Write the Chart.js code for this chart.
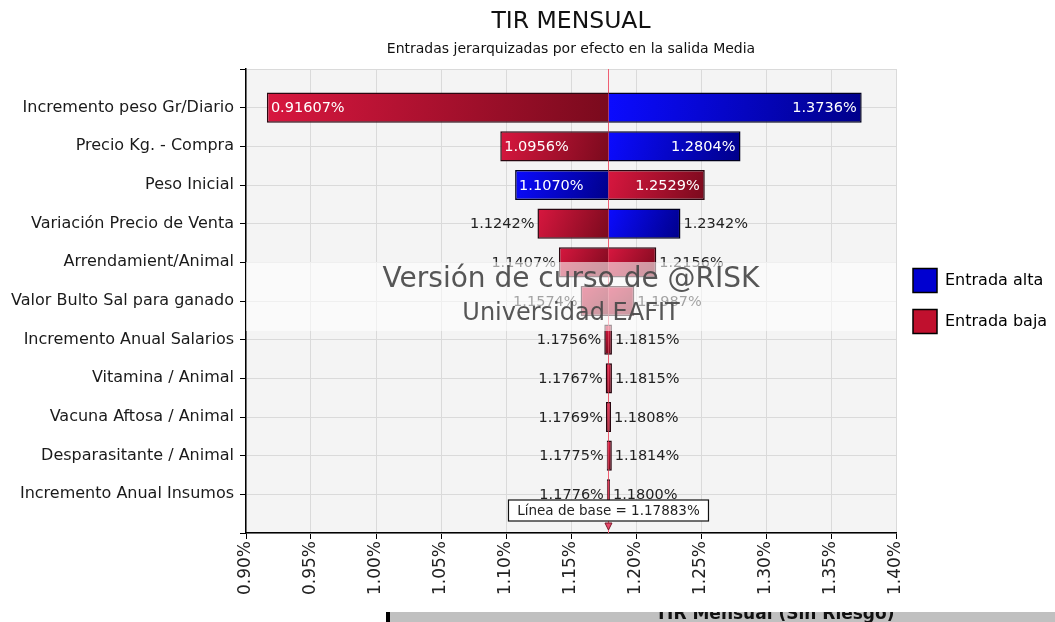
<!DOCTYPE html>
<html>
<head>
<meta charset="utf-8">
<script src="https://cdn.jsdelivr.net/npm/chart.js@4.4.1/dist/chart.umd.min.js"></script>
<style>
html,body{margin:0;padding:0;background:#fff;}
#wrap{width:1055px;height:622px;position:relative;}
</style>
</head>
<body>
<div id="wrap"><canvas id="tornado" width="1055" height="622"></canvas></div>
<script>
// data read from the @RISK tornado
const categories = ['Incremento peso Gr/Diario','Precio Kg. - Compra','Peso Inicial','Variación Precio de Venta',
  'Arrendamient/Animal','Valor Bulto Sal para ganado','Incremento Anual Salarios','Vitamina / Animal',
  'Vacuna Aftosa / Animal','Desparasitante / Animal','Incremento Anual Insumos'];
const baseline = 1.17883;
const lowValues  = [0.91607, 1.0956, 1.1070, 1.1242, 1.1407, 1.1574, 1.1756, 1.1767, 1.1769, 1.1775, 1.1776];
const highValues = [1.3736, 1.2804, 1.2529, 1.2342, 1.2156, 1.1987, 1.1815, 1.1815, 1.1808, 1.1814, 1.1800];
// which input ('alta'/'baja') produced each end of the bar
const leftInput  = ['baja','baja','alta','baja','baja','baja','baja','baja','baja','baja','baja'];
const rightInput = ['alta','alta','baja','alta','baja','baja','baja','baja','baja','baja','baja'];
const xTicks = [0.90,0.95,1.00,1.05,1.10,1.15,1.20,1.25,1.30,1.35,1.40];

const FONT = '"DejaVu Sans", Verdana, sans-serif';
const pal = {
  alta: {from:'#0b0bff', to:'#00008a', border:'#00001e', flat:'#0000d0'},
  baja: {from:'#d8173f', to:'#7a0a1d', border:'#2a0710', flat:'#c0102e'}
};

function fillFor(kind){
  return ctx => {
    const c = pal[kind];
    if (ctx.type !== 'data' || !ctx.raw || !ctx.raw.x) return c.flat;
    const xs = ctx.chart.scales.x, ys = ctx.chart.scales.y;
    const x0 = xs.getPixelForValue(ctx.raw.x[0]), x1 = xs.getPixelForValue(ctx.raw.x[1]);
    const yc = ys.getPixelForValue(ctx.parsed.y);
    const g = ctx.chart.ctx.createLinearGradient(Math.min(x0,x1), yc-15, Math.max(x0,x1), yc+15);
    g.addColorStop(0, c.from); g.addColorStop(1, c.to);
    return g;
  };
}

function segment(kind, side){
  const inputs = side === 'left' ? leftInput : rightInput;
  return {
    label: kind === 'alta' ? 'Entrada alta' : 'Entrada baja',
    data: categories.map((c,i) => ({
      y: c,
      x: inputs[i] === kind ? (side === 'left' ? [lowValues[i], baseline] : [baseline, highValues[i]]) : null
    })),
    backgroundColor: fillFor(kind),
    borderColor: pal[kind].border,
    borderWidth: 1.5,
    borderSkipped: side === 'left' ? 'right' : 'left',
    grouped: false,
    categoryPercentage: 1,
    barPercentage: 0.78
  };
}

const plotBg = {
  id:'plotBg',
  beforeDraw(chart){
    const {ctx, chartArea:a} = chart;
    ctx.save(); ctx.fillStyle = '#f4f4f4'; ctx.fillRect(a.left, a.top, a.right-a.left, a.bottom-a.top); ctx.restore();
  }
};

const baseLine = {
  id:'baseLine',
  beforeDatasetsDraw(chart){
    const {ctx, chartArea:a} = chart;
    const x = Math.round(chart.scales.x.getPixelForValue(baseline)) + 0.5;
    ctx.save(); ctx.strokeStyle = '#ef5f72'; ctx.lineWidth = 1;
    ctx.beginPath(); ctx.moveTo(x, a.top); ctx.lineTo(x, a.bottom); ctx.stroke(); ctx.restore();
  }
};

const fmt = v => v.toPrecision(5) + '%';

const barLabels = {
  id:'barLabels',
  afterDatasetsDraw(chart){
    const ctx = chart.ctx;
    ctx.save();
    ctx.font = '14.5px ' + FONT; ctx.textBaseline = 'middle';
    categories.forEach((c,i) => {
      const lm = chart.getDatasetMeta(leftInput[i] === 'alta' ? 0 : 1).data[i];
      const rm = chart.getDatasetMeta(rightInput[i] === 'alta' ? 2 : 3).data[i];
      // left end
      let t = fmt(lowValues[i]), w = ctx.measureText(t).width, segW = lm.x - lm.base;
      if (segW > w + 14) { ctx.fillStyle = '#fff'; ctx.textAlign = 'left'; ctx.fillText(t, lm.base + 4, lm.y + 1); }
      else { ctx.fillStyle = '#222'; ctx.textAlign = 'right'; ctx.fillText(t, lm.base - 3, lm.y + 1); }
      // right end
      t = fmt(highValues[i]); w = ctx.measureText(t).width; segW = rm.x - rm.base;
      if (segW > w + 14) { ctx.fillStyle = '#fff'; ctx.textAlign = 'right'; ctx.fillText(t, rm.x - 5, rm.y + 1); }
      else { ctx.fillStyle = '#222'; ctx.textAlign = 'left'; ctx.fillText(t, rm.x + 3, rm.y + 1); }
    });
    ctx.restore();
  }
};

const baseBox = {
  id:'baseBox',
  afterDatasetsDraw(chart){
    const {ctx, chartArea:a} = chart;
    const x = chart.scales.x.getPixelForValue(baseline);
    ctx.save();
    // marker
    ctx.fillStyle = '#e8476a'; ctx.strokeStyle = '#7a1a2a'; ctx.lineWidth = 1;
    ctx.beginPath(); ctx.moveTo(x-3.5, a.bottom-10); ctx.lineTo(x+3.5, a.bottom-10); ctx.lineTo(x, a.bottom-3); ctx.closePath();
    ctx.fill(); ctx.stroke();
    // label box
    const txt = 'Línea de base = ' + baseline.toPrecision(6) + '%';
    ctx.font = '13.5px ' + FONT;
    const w = 200, h = 21, y = a.bottom - 33;
    ctx.fillStyle = '#fff'; ctx.fillRect(x - w/2, y, w, h);
    ctx.strokeStyle = '#111'; ctx.lineWidth = 1.2; ctx.strokeRect(x - w/2, y, w, h);
    ctx.fillStyle = '#222'; ctx.textAlign = 'center'; ctx.textBaseline = 'middle';
    ctx.fillText(txt, x, y + h/2 + 1);
    ctx.restore();
  }
};

const watermark = {
  id:'watermark',
  afterDraw(chart){
    const {ctx, chartArea:a} = chart;
    const cx = (a.left + a.right) / 2;
    ctx.save();
    ctx.fillStyle = 'rgba(255,255,255,0.58)';
    ctx.fillRect(a.left, 262, a.right - a.left, 69);
    ctx.fillStyle = 'rgba(72,72,72,0.92)'; ctx.textAlign = 'center'; ctx.textBaseline = 'middle';
    ctx.font = '28px ' + FONT; ctx.fillText('Versión de curso de @RISK', cx, 280);
    ctx.font = '24px ' + FONT; ctx.fillText('Universidad EAFIT', cx, 314);
    // clipped strip of the next report below
    ctx.fillStyle = '#c0c0c0'; ctx.fillRect(390, 612, 665, 10);
    ctx.fillStyle = '#000'; ctx.fillRect(386, 612, 4, 10);
    ctx.beginPath(); ctx.rect(390, 612, 665, 10); ctx.clip();
    ctx.fillStyle = '#111'; ctx.font = 'bold 17px ' + FONT; ctx.textAlign = 'center'; ctx.textBaseline = 'alphabetic';
    ctx.fillText('TIR Mensual (Sin Riesgo)', 775, 619);
    ctx.restore();
  }
};

new Chart(document.getElementById('tornado'), {
  type: 'bar',
  data: {
    labels: ['', ...categories, ''],
    datasets: [segment('alta','left'), segment('baja','left'), segment('alta','right'), segment('baja','right')]
  },
  options: {
    indexAxis: 'y',
    responsive: false,
    animation: false,
    layout: {padding: {left: 0, right: 0, top: 0, bottom: 0}},
    scales: {
      x: {
        type: 'linear', position: 'bottom', min: 0.9, max: 1.4,
        afterBuildTicks: s => { s.ticks = xTicks.map(v => ({value: v})); },
        afterFit: s => { s.height = 89; },
        ticks: {callback: v => v.toFixed(2) + '%', minRotation: 90, maxRotation: 90, autoSkip: false,
          font: {family: FONT, size: 17}, color: '#222', padding: 2},
        grid: {color: '#dadada', tickColor: '#000', tickLength: 6},
        border: {color: '#000', width: 1.5}
      },
      y: {
        type: 'category', offset: false,
        afterFit: s => { s.width = 246; },
        ticks: {font: {family: FONT, size: 16}, color: '#1a1a1a', padding: 6, autoSkip: false},
        grid: {color: '#dadada', tickColor: '#000', tickLength: 6, offset: false},
        border: {color: '#000', width: 1.5}
      }
    },
    plugins: {
      title: {display: true, text: 'TIR MENSUAL', fullSize: false, color: '#111',
        font: {family: FONT, size: 23.5, weight: 'normal'}, padding: {top: 8, bottom: 2}},
      subtitle: {display: true, text: 'Entradas jerarquizadas por efecto en la salida Media', fullSize: false, color: '#111',
        font: {family: FONT, size: 14}, padding: {top: 3, bottom: 11}},
      legend: {
        position: 'right', fullSize: false, maxWidth: 159, onClick: null,
        labels: {
          boxWidth: 24, boxHeight: 24, padding: 17, color: '#1a1a1a',
          font: {family: FONT, size: 16},
          generateLabels: () => [
            {text: 'Entrada alta', fillStyle: pal.alta.flat, strokeStyle: '#000', lineWidth: 1.5, datasetIndex: 0},
            {text: 'Entrada baja', fillStyle: pal.baja.flat, strokeStyle: '#000', lineWidth: 1.5, datasetIndex: 1}
          ]
        }
      },
      tooltip: {enabled: false}
    }
  },
  plugins: [plotBg, baseLine, barLabels, baseBox, watermark]
});
</script>
</body>
</html>
